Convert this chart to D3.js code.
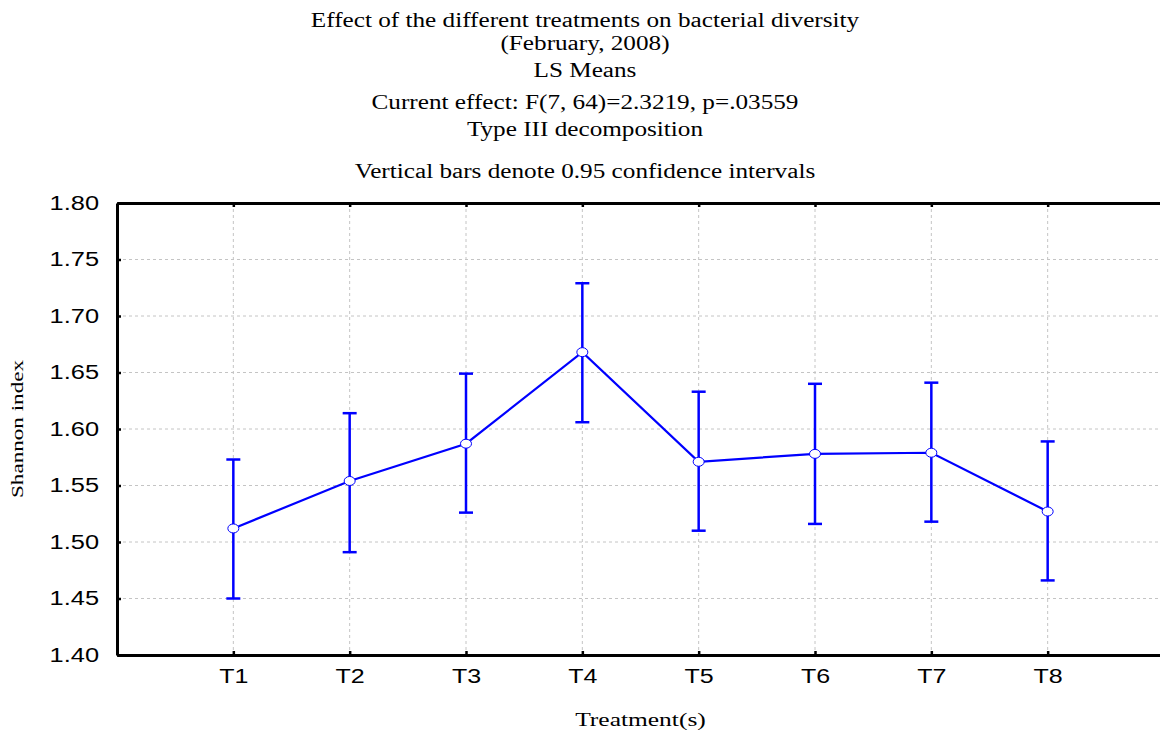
<!DOCTYPE html>
<html>
<head>
<meta charset="utf-8">
<script src="https://cdn.jsdelivr.net/npm/d3@7"></script>
<style>
  body { margin: 0; background: #fff; }
  svg { display: block; }
</style>
</head>
<body>
<svg id="chart" width="1160" height="735"></svg>
<script>
// data
const treatments = ["T1", "T2", "T3", "T4", "T5", "T6", "T7", "T8"];
const means = [1.512, 1.554, 1.587, 1.668, 1.571, 1.578, 1.579, 1.527];
const upper = [1.573, 1.614, 1.649, 1.729, 1.633, 1.640, 1.641, 1.589];
const lower = [1.450, 1.491, 1.526, 1.606, 1.510, 1.516, 1.518, 1.466];
const yTicks = [1.40, 1.45, 1.50, 1.55, 1.60, 1.65, 1.70, 1.75, 1.80];
const titleLines = [
  "Effect of the different treatments on bacterial diversity",
  "(February, 2008)",
  "LS Means",
  "Current effect: F(7, 64)=2.3219, p=.03559",
  "Type III decomposition",
  "Vertical bars denote 0.95 confidence intervals"
];

const MARGIN = { left: 117, top: 203, right: -4, bottom: 80 };
const width = 1160 - MARGIN.left - MARGIN.right;
const height = 735 - MARGIN.top - MARGIN.bottom;
const BLUE = "#0000ff";

const svg = d3.select("#chart");

// stretch text sideways a bit, the original is rendered wide
function widen(sel, k) {
  sel.each(function () {
    const len = this.getComputedTextLength();
    d3.select(this).attr("textLength", len * k).attr("lengthAdjust", "spacingAndGlyphs");
  });
}

const xScale = d3.scalePoint()
  .domain(treatments)
  .range([0, width])
  .padding(1);

const yScale = d3.scaleLinear()
  .domain([1.40, 1.80])
  .range([height, 0]);

// titles
const titleY = [20, 43, 70, 102, 129, 171];
svg.append("g")
  .selectAll("text")
  .data(titleLines)
  .join("text")
  .attr("x", 585)
  .attr("y", (d, i) => titleY[i])
  .attr("dy", "0.35em")
  .attr("text-anchor", "middle")
  .style("font-family", "'Liberation Serif', 'Times New Roman', serif")
  .style("font-size", "20px")
  .style("fill", "#000")
  .text(d => d)
  .call(widen, 1.26);

const plot = svg.append("g")
  .attr("transform", `translate(${MARGIN.left},${MARGIN.top})`);

// grid lines
plot.append("g")
  .selectAll("line")
  .data(yTicks.slice(1, -1))
  .join("line")
  .attr("x1", 0)
  .attr("x2", width)
  .attr("y1", d => yScale(d))
  .attr("y2", d => yScale(d))
  .attr("stroke", "#c4c4c4")
  .attr("stroke-dasharray", "3,3");

plot.append("g")
  .selectAll("line")
  .data(treatments)
  .join("line")
  .attr("x1", d => xScale(d))
  .attr("x2", d => xScale(d))
  .attr("y1", 0)
  .attr("y2", height)
  .attr("stroke", "#c4c4c4")
  .attr("stroke-dasharray", "3,3");

// axes (ticks point inward)
const yAxis = plot.append("g")
  .call(d3.axisLeft(yScale).tickValues(yTicks).tickFormat(d3.format(".2f")).tickSize(-4).tickSizeOuter(0).tickPadding(18));
const yAxisRight = plot.append("g")
  .attr("transform", `translate(${width},0)`)
  .call(d3.axisRight(yScale).tickValues(yTicks).tickSize(-4).tickSizeOuter(0).tickFormat(""));
const xAxis = plot.append("g")
  .attr("transform", `translate(0,${height})`)
  .call(d3.axisBottom(xScale).tickSize(-4).tickSizeOuter(0).tickPadding(14));
const xAxisTop = plot.append("g")
  .call(d3.axisTop(xScale).tickSize(-4).tickSizeOuter(0).tickFormat(""));

[yAxis, yAxisRight, xAxis, xAxisTop].forEach(ax => {
  ax.select(".domain").attr("stroke", "#000").attr("stroke-width", 3);
  ax.selectAll(".tick line").attr("stroke", "#000").attr("stroke-width", 2.5);
});

yAxis.selectAll(".tick text")
  .style("font-family", "'Liberation Sans', Arial, sans-serif")
  .style("font-size", "20px")
  .style("fill", "#000")
  .call(widen, 1.27);

xAxis.selectAll(".tick text")
  .style("font-family", "'Liberation Sans', Arial, sans-serif")
  .style("font-size", "20px")
  .style("fill", "#000")
  .call(widen, 1.25);

// axis titles
svg.append("text")
  .attr("x", MARGIN.left + (xScale("T4") + xScale("T5")) / 2)
  .attr("y", 726)
  .attr("text-anchor", "middle")
  .style("font-family", "'Liberation Serif', 'Times New Roman', serif")
  .style("font-size", "19px")
  .text("Treatment(s)")
  .call(widen, 1.34);

svg.append("text")
  .attr("transform", `translate(23,${MARGIN.top + height / 2}) rotate(-90)`)
  .attr("text-anchor", "middle")
  .style("font-family", "'Liberation Serif', 'Times New Roman', serif")
  .style("font-size", "17px")
  .text("Shannon index")
  .call(widen, 1.36);

// error bars
const bars = plot.append("g")
  .selectAll("g")
  .data(treatments)
  .join("g");

bars.append("line")
  .attr("x1", d => xScale(d))
  .attr("x2", d => xScale(d))
  .attr("y1", (d, i) => yScale(upper[i]))
  .attr("y2", (d, i) => yScale(lower[i]))
  .attr("stroke", BLUE)
  .attr("stroke-width", 2.5);

[upper, lower].forEach(arr => {
  bars.append("line")
    .attr("x1", d => xScale(d) - 7)
    .attr("x2", d => xScale(d) + 7)
    .attr("y1", (d, i) => yScale(arr[i]))
    .attr("y2", (d, i) => yScale(arr[i]))
    .attr("stroke", BLUE)
    .attr("stroke-width", 2.5);
});

// mean line
const line = d3.line()
  .x((d, i) => xScale(treatments[i]))
  .y(d => yScale(d));

plot.append("path")
  .datum(means)
  .attr("d", line)
  .attr("fill", "none")
  .attr("stroke", BLUE)
  .attr("stroke-width", 2.2);

plot.append("g")
  .selectAll("ellipse")
  .data(means)
  .join("ellipse")
  .attr("cx", (d, i) => xScale(treatments[i]))
  .attr("cy", d => yScale(d))
  .attr("rx", 5.5)
  .attr("ry", 4.5)
  .attr("fill", "#fff")
  .attr("stroke", BLUE)
  .attr("stroke-width", 1);
</script>
</body>
</html>
